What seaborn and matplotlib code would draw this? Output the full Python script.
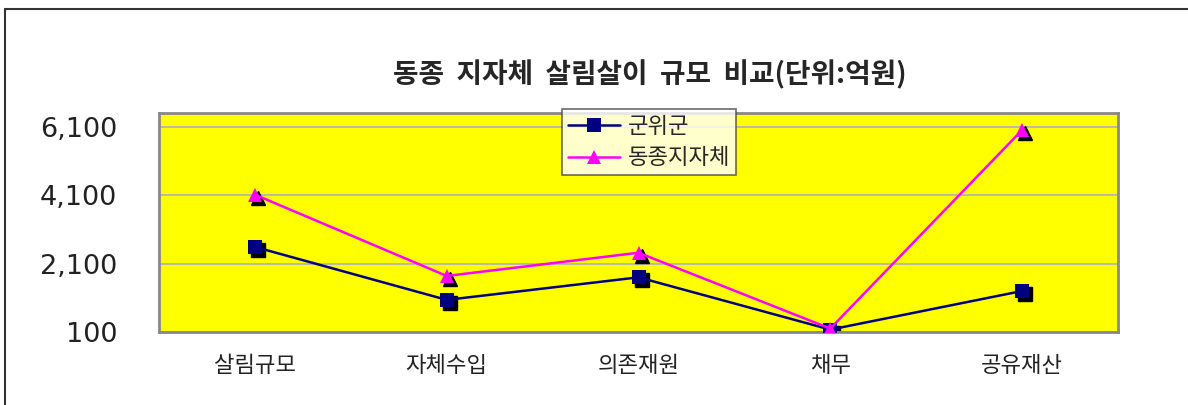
import numpy as np
import pandas as pd
import matplotlib
matplotlib.use("Agg")
import matplotlib.pyplot as plt
import matplotlib.transforms as mtransforms
from matplotlib.lines import Line2D
import seaborn as sns

categories = ["살림규모", "자체수입", "의존재원", "채무", "공유재산"]
gunwi = [2590, 1040, 1700, 170, 1300]
similar = [4120, 1740, 2420, 200, 6010]
series_names = ["군위군", "동종지자체"]
yticks = [100, 2100, 4100, 6100]
ytick_labels = ["100", "2,100", "4,100", "6,100"]

df = pd.DataFrame({
    "category": categories * 2,
    "x": list(range(len(categories))) * 2,
    "value": gunwi + similar,
    "series": [series_names[0]] * len(categories) + [series_names[1]] * len(categories),
})

sns.set_style("white")
plt.rcParams["font.family"] = ["Noto Sans CJK KR", "DejaVu Sans"]

fig = plt.figure(figsize=(11.88, 4.05), dpi=100)
ax = fig.add_axes([159 / 1188, 1 - 332 / 405, 959 / 1188, 219 / 405])
ax.set_facecolor("#ffff00")

colors = {"군위군": "#000080", "동종지자체": "#ff00ff"}
markers = {"군위군": "s", "동종지자체": "^"}
sizes = {"군위군": 9.5, "동종지자체": 10.5}

# black drop shadow behind the markers
shadow = mtransforms.offset_copy(ax.transData, fig=fig, x=3, y=-3, units="dots")
for name in series_names:
    sub = df[df["series"] == name]
    ax.plot(sub["x"], sub["value"], linestyle="none", marker=markers[name],
            markersize=sizes[name], color="black", transform=shadow, zorder=2)

sns.lineplot(data=df, x="x", y="value", hue="series", style="series",
             palette=colors, markers=markers, dashes=False, markersize=10,
             linewidth=1.8, markeredgewidth=0, ax=ax, legend=False, zorder=3)
for line, name in zip(ax.lines[-2:], series_names):
    line.set_markersize(sizes[name])

ax.set_xlim(-0.5, len(categories) - 0.5)
ax.set_ylim(100, 6510)
ax.set_yticks(yticks)
ax.set_yticklabels(ytick_labels, fontsize=19.5, family=["DejaVu Sans"], color="#222222")
ax.set_xticks(range(len(categories)))
ax.set_xticklabels(categories, fontsize=16, color="#222222")
ax.tick_params(axis="y", length=0, pad=30)
ax.tick_params(axis="x", length=0, pad=15.5)
ax.set_xlabel("")
ax.set_ylabel("")
ax.grid(axis="y", color="#b4b4b4", linewidth=1.3)
ax.set_axisbelow(True)
for sp in ax.spines.values():
    sp.set_visible(True)
    sp.set_color("#888888")
    sp.set_linewidth(2)

handles = [Line2D([0], [0], color=colors[n], marker=markers[n], markersize=sizes[n],
                  markeredgewidth=0, linewidth=1.8) for n in series_names]
leg = ax.legend(handles, series_names, loc="upper left",
                bbox_to_anchor=((562 - 159) / 959, (332 - 109) / 219),
                fontsize=16, frameon=True, fancybox=False, borderpad=0.25,
                handlelength=2.35, handletextpad=0.35, labelspacing=0.4,
                borderaxespad=0)
leg.get_frame().set_edgecolor("#444444")
leg.get_frame().set_linewidth(1.2)
leg.get_frame().set_facecolor("white")
leg.set_zorder(5)

fig.text(650 / 1188, 1 - 75 / 405, "동종  지자체  살림살이  규모  비교(단위:억원)",
         ha="center", va="center", fontsize=20, fontweight="bold")

# outer frame (top and left edges visible)
fig.add_artist(Line2D([5 / 1188, 1.0], [1 - 9 / 405, 1 - 9 / 405],
                      transform=fig.transFigure, color="#333333", linewidth=1.5))
fig.add_artist(Line2D([5 / 1188, 5 / 1188], [0, 1 - 9 / 405],
                      transform=fig.transFigure, color="#333333", linewidth=1.5))

fig.savefig("out.png", dpi=100)
